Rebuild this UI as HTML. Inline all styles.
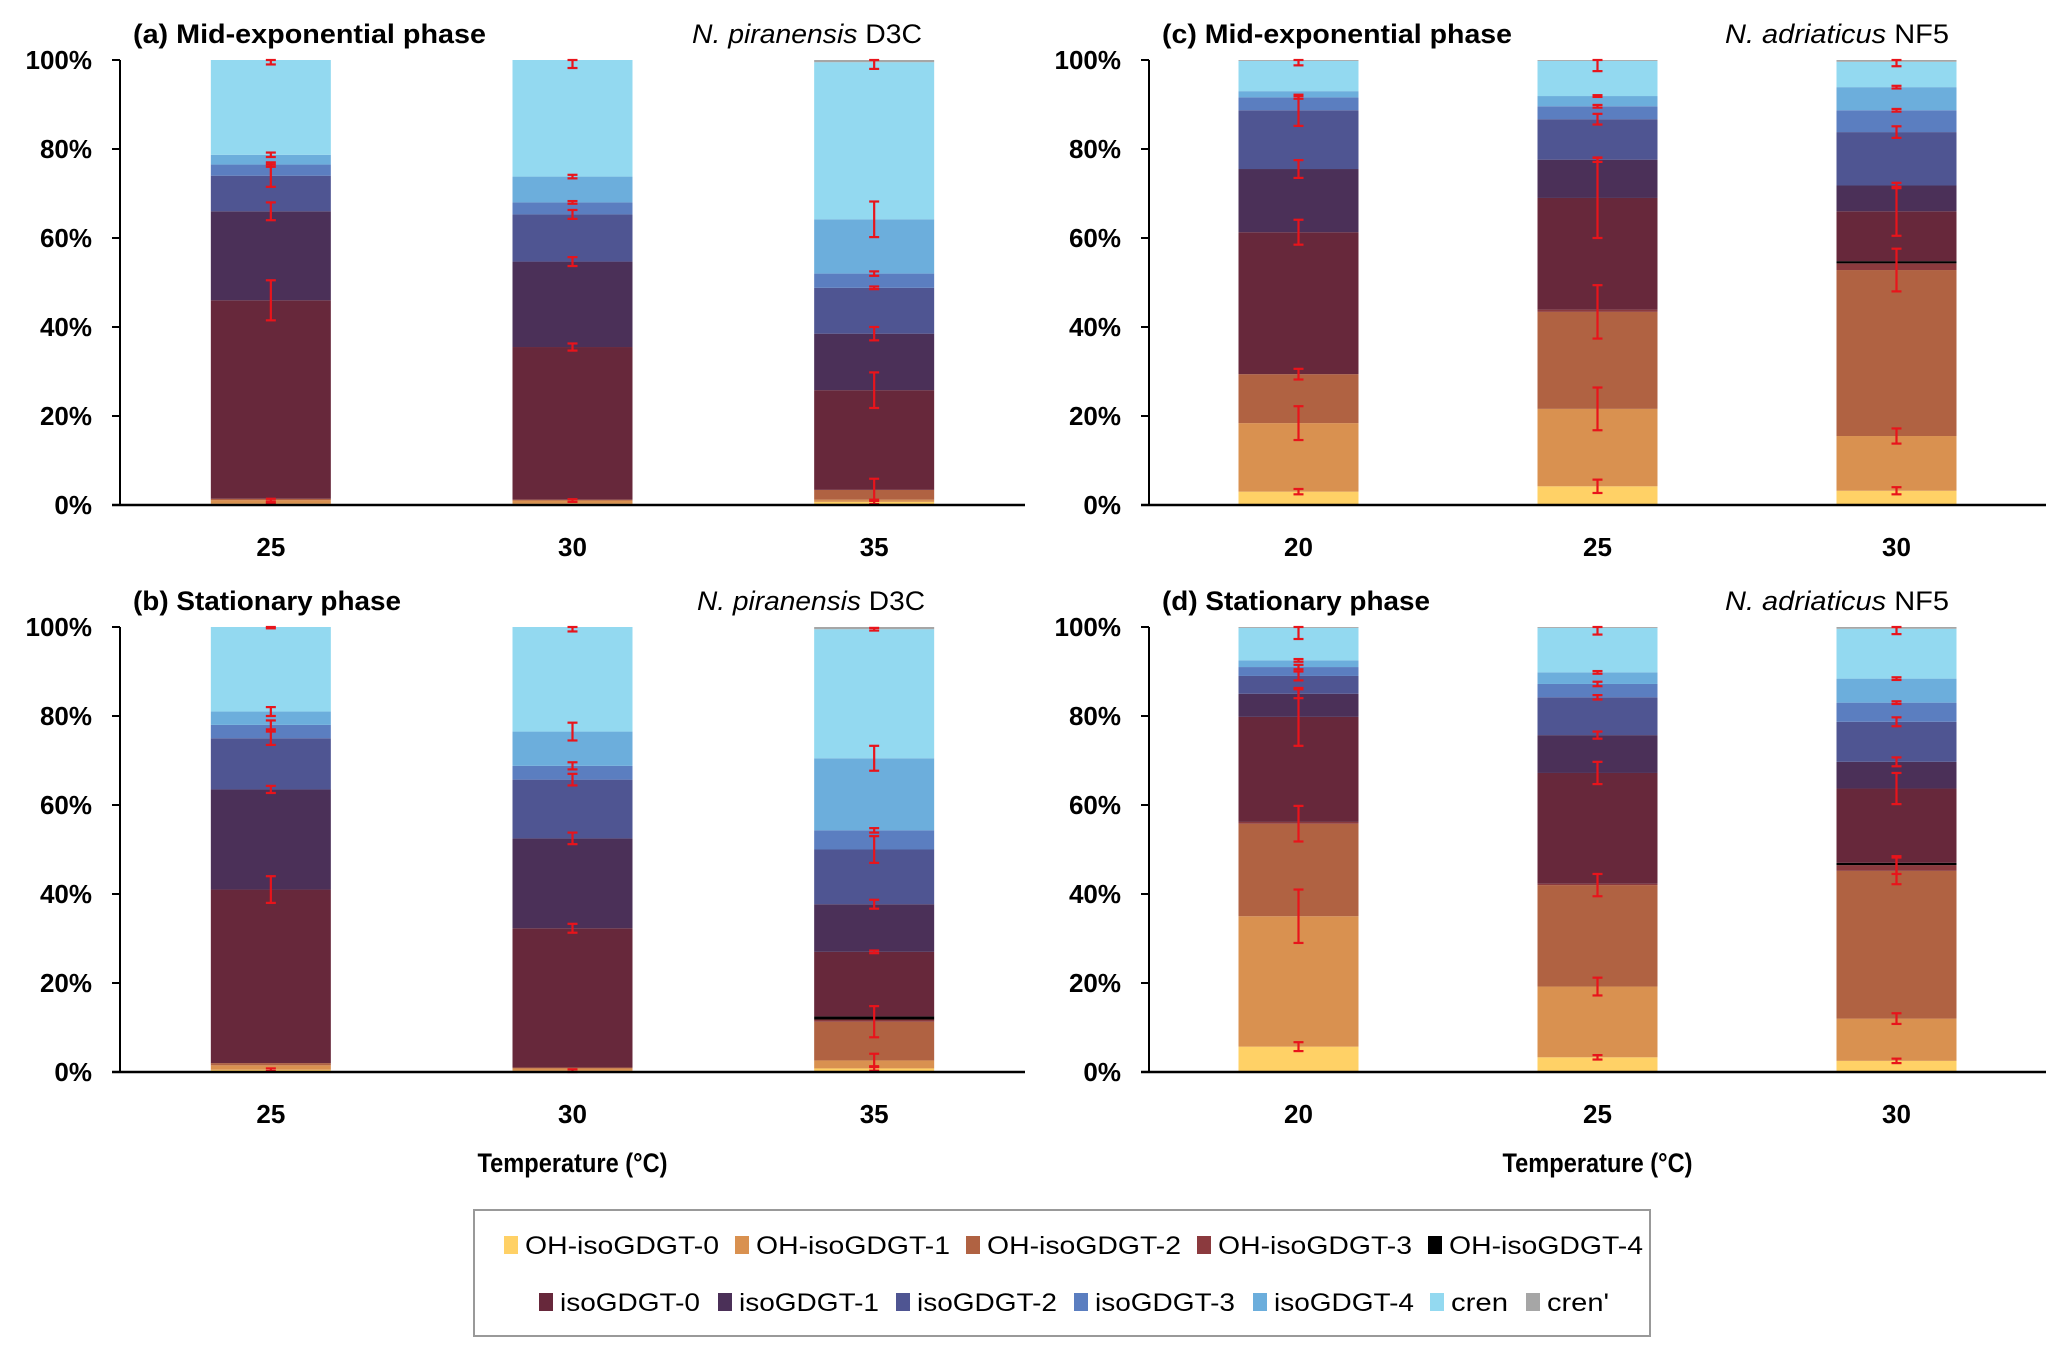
<!DOCTYPE html>
<html><head><meta charset="utf-8"><style>
html,body{margin:0;padding:0;background:#fff;}
svg{display:block;font-family:"Liberation Sans",sans-serif;}
</style></head><body>
<svg id="fig" width="2067" height="1357" viewBox="0 0 2067 1357" xmlns="http://www.w3.org/2000/svg"></svg>
<script>
const seriesNames = ["OH-isoGDGT-0","OH-isoGDGT-1","OH-isoGDGT-2","OH-isoGDGT-3","OH-isoGDGT-4","isoGDGT-0","isoGDGT-1","isoGDGT-2","isoGDGT-3","isoGDGT-4","cren","cren'"];
const seriesColors = ["#FFD166","#D99150","#B06242","#8B3A3E","#000000","#67283B","#4B3058","#4F5592","#5B7EC0","#6CAEDC","#93D9F0","#A6A6A6"];
const yTicks = [0,20,40,60,80,100];
const catsPir = ["25","30","35"];
const catsAdr = ["20","25","30"];
const valsA = [[0.3,0.8,0.3,0,0,44.6,20,8,2.5,2.2,21.3,0],[0.3,0.7,0.2,0,0,34.3,19.2,10.6,2.7,5.8,26.2,0],[0.7,0.5,2.2,0,0,22.4,12.7,10.3,3.2,12.2,35.3,0.5]];
const errsA = [[0.2,0.3,0,0,0,4.5,2,2.5,0.5,0.5,1,0],[0,0.3,0,0,0,0.8,1,1,0.3,0.4,1.8,0],[0.5,0,2.5,0,0,4,1.5,0.3,0.5,4,1.5,0]];
const valsB = [[0.5,1,0.5,0,0,39,22.5,11.5,3,3,19,0],[0.3,0.5,0.2,0,0,31.3,20.2,13.2,3.1,7.7,23.5,0],[0.8,1.8,8.7,0.5,0.7,14.5,10.7,12.3,4.3,16.2,29,0.5]];
const errsB = [[0.3,0,0,0,0,3,0.8,1.5,1,1,0.3,0],[0.3,0,0,0,0,1,1.3,1.3,0.8,2,1,0],[0.5,1.5,3.5,0,0,0.3,1,3,0.5,2.8,0.3,0]];
const valsC = [[3,15.4,11,0,0,31.9,14.2,13.2,2.9,1.4,6.8,0.2],[4.2,17.4,21.8,0.5,0,25.1,8.6,9.1,2.9,2.3,7.9,0.2],[3.2,12.3,37.3,1.5,0.5,11.2,5.8,12,4.9,5.2,5.7,0.4]];
const errsC = [[0.6,3.8,1.2,0,0,2.8,2,3.5,0.3,0,1,0],[1.5,4.8,6,0,0,9,0.5,1.2,0.3,0.2,2.3,0],[0.8,1.7,4.8,0,0,5.5,0.6,1.3,0.3,0.3,1,0]];
const valsD = [[5.7,29.3,20.8,0.4,0,23.6,5.2,4,2,1.5,7.3,0.2],[3.3,15.9,22.8,0.3,0,24.9,8.5,8.5,3,2.6,10,0.2],[2.5,9.5,33.2,1.3,0.5,16.7,6,9,4.3,5.4,11.2,0.4]];
const errsD = [[1,6,4,0,0,6.5,1,1,0.5,0.3,2.5,0],[0.5,2,2.5,0,0,2.5,0.8,0.5,0.5,0.3,1.5,0],[0.5,1.2,3,2,0,3.5,1,1,0.3,0.3,1.2,0]];

const NS="http://www.w3.org/2000/svg";
const svg=document.getElementById('fig');
function mk(tag,attrs,parent,text){const e=document.createElementNS(NS,tag);for(const k in attrs)e.setAttribute(k,attrs[k]);if(text!==undefined)e.textContent=text;(parent||svg).appendChild(e);return e;}

function panel(id,L,R,T,B,cats,vals,errs,title,titleW,spItal,spRest,spX,spW,showXTitle){
  const g=mk('g',{});
  
  
  const y=v=>B-(v/100)*(B-T);
  const band=(R-L)/3;
  const xc=i=>L+(i+0.5)*band;
  const bw=120;
  vals.forEach((row,i)=>{
    let cum=0;
    row.forEach((v,s)=>{
      if(v<=0){return;}
      const r=mk('rect',{x:xc(i)-bw/2,y:y(cum+v),width:bw,height:y(cum)-y(cum+v),fill:seriesColors[s]},g);
      
      
      cum+=v;
    });
    cum=0;
    row.forEach((v,s)=>{
      cum+=v;
      const e=errs[i][s];
      if(v<=0||e<=0)return;
      const cx=xc(i);
      const eg=mk('g',{stroke:'#E8141B','stroke-width':2.2},g);
      
      
      const lo=Math.max(0,cum-e),hi=Math.min(100,cum+e);
      mk('line',{x1:cx,x2:cx,y1:y(lo),y2:y(hi)},eg);
      mk('line',{x1:cx-5,x2:cx+5,y1:y(lo),y2:y(lo)},eg);
      mk('line',{x1:cx-5,x2:cx+5,y1:y(hi),y2:y(hi)},eg);
    });
    const t=mk('text',{x:xc(i),y:B+51,'text-anchor':'middle','font-size':26,'font-weight':'bold',fill:'#000'},g,cats[i]);
    
    
  });
  const ya=mk('line',{x1:L,x2:L,y1:T,y2:B,stroke:'#000','stroke-width':2},g);
  
  
  const xa=mk('line',{x1:L-8,x2:R,y1:B,y2:B,stroke:'#000','stroke-width':2.5},g);
  
  
  yTicks.forEach(v=>{
    mk('line',{x1:L-8,x2:L,y1:y(v),y2:y(v),stroke:'#000','stroke-width':2},g);
    const t=mk('text',{x:L-28,y:y(v)+9,'text-anchor':'end','font-size':26,'font-weight':'bold',fill:'#000'},g,v+'%');
    
    
  });
  const tt=mk('text',{x:L+13,y:T-17,'font-size':27,'font-weight':'bold',fill:'#000',textLength:titleW,lengthAdjust:'spacingAndGlyphs'},g,title);
  
  
  const st=mk('text',{x:spX,y:T-17,'font-size':27,fill:'#000',textLength:spW,lengthAdjust:'spacingAndGlyphs'},g);
  
  
  mk('tspan',{'font-style':'italic'},st,spItal);
  mk('tspan',{},st,spRest);
  if(showXTitle){
    const xt=mk('text',{x:xc(1),y:1172,'text-anchor':'middle','font-size':27,'font-weight':'bold',fill:'#000',textLength:190,lengthAdjust:'spacingAndGlyphs'},g,'Temperature (°C)');
    
    
  }
}
panel('a',120,1025,60,505,catsPir,valsA,errsA,'(a) Mid-exponential phase',353,'N. piranensis',' D3C',692,230,false);
panel('b',120,1025,627,1072,catsPir,valsB,errsB,'(b) Stationary phase',268,'N. piranensis',' D3C',697,228,true);
panel('c',1149,2046,60,505,catsAdr,valsC,errsC,'(c) Mid-exponential phase',350,'N. adriaticus',' NF5',1725,224,false);
panel('d',1149,2046,627,1072,catsAdr,valsD,errsD,'(d) Stationary phase',268,'N. adriaticus',' NF5',1725,224,true);

const lg=mk('g',{});


const box=mk('rect',{x:474,y:1210,width:1176,height:126,fill:'#fff',stroke:'#999','stroke-width':2},lg);


const legX=[504,735,966,1197,1428,539,718,896,1074,1253,1430,1526];
const legW=[194,194,194,194,194,140,140,140,140,140,57,62];
seriesNames.forEach((n,i)=>{
  const row=i<5?0:1;
  const cy=row?1302:1245;
  const eg=mk('g',{},lg);
  
  
  mk('rect',{x:legX[i],y:cy-9,width:14,height:18,fill:seriesColors[i]},eg);
  mk('text',{x:legX[i]+21,y:cy+9,'font-size':25,fill:'#000',textLength:legW[i],lengthAdjust:'spacingAndGlyphs'},eg,n);
});
</script>
</body></html>
